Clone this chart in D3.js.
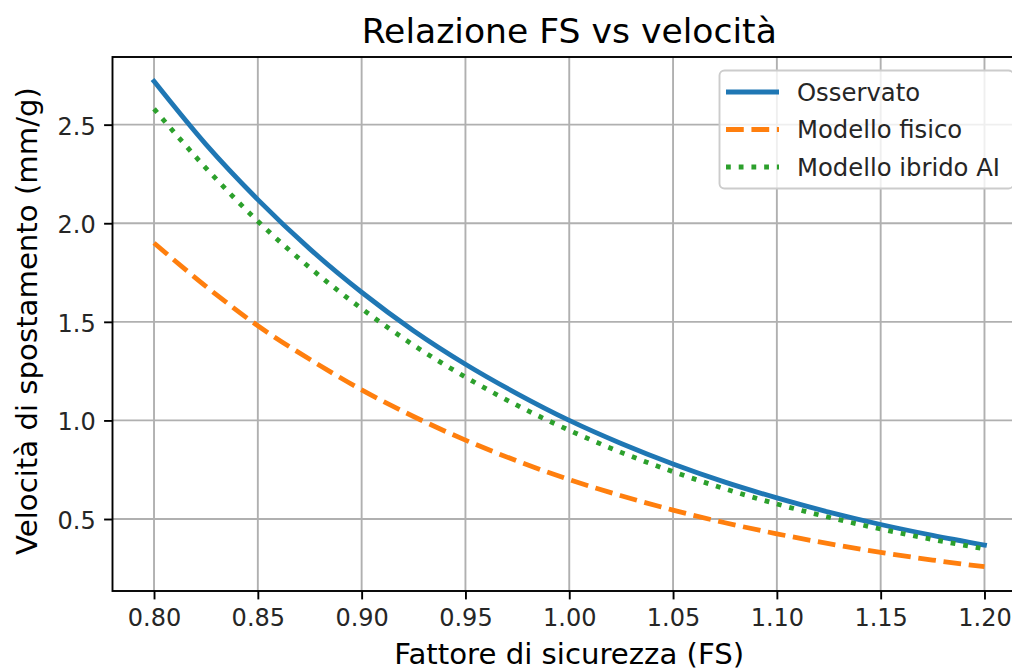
<!DOCTYPE html>
<html>
<head>
<meta charset="utf-8">
<script src="https://cdn.jsdelivr.net/npm/d3@7"></script>
<style>
  html, body { margin: 0; padding: 0; background: #fff; }
  svg { display: block; font-family: "DejaVu Sans", sans-serif; }
</style>
</head>
<body>
<svg id="chart" width="1012" height="670"></svg>
<script>
// ---- data ----
const fsValues = [0.80, 0.825, 0.85, 0.875, 0.90, 0.925, 0.95, 0.975, 1.00,
                  1.025, 1.05, 1.075, 1.10, 1.125, 1.15, 1.175, 1.20];
const observed = [2.72, 2.40, 2.12, 1.87, 1.65, 1.455, 1.285, 1.135, 1.00,
                  0.883, 0.779, 0.687, 0.607, 0.535, 0.472, 0.417, 0.368];
const physical = [1.90, 1.68, 1.48, 1.31, 1.155, 1.02, 0.90, 0.794, 0.70,
                  0.618, 0.545, 0.481, 0.425, 0.375, 0.331, 0.292, 0.258];
const hybrid   = [2.58, 2.28, 2.01, 1.775, 1.567, 1.382, 1.22, 1.076, 0.95,
                  0.838, 0.74, 0.653, 0.576, 0.509, 0.449, 0.396, 0.349];
const seriesNames = ["Osservato", "Modello fisico", "Modello ibrido AI"];
const xTicks = [0.80, 0.85, 0.90, 0.95, 1.00, 1.05, 1.10, 1.15, 1.20];
const yTicks = [0.5, 1.0, 1.5, 2.0, 2.5];
const titleText = "Relazione FS vs velocità";
const xLabel = "Fattore di sicurezza (FS)";
const yLabel = "Velocità di spostamento (mm/g)";

// ---- layout ----
const svg = d3.select("#chart");
const L = 112.5, R = 1026, T = 57, B = 591;
const lw = 4.8;

const xMin = d3.min(fsValues), xMax = d3.max(fsValues);
const xPad = (xMax - xMin) * 0.05;
const allY = observed.concat(physical, hybrid);
const yMin = d3.min(allY), yMax = d3.max(allY);
const yPad = (yMax - yMin) * 0.05;

const x = d3.scaleLinear().domain([xMin - xPad, xMax + xPad]).range([L, R]);
const y = d3.scaleLinear().domain([yMin - yPad, yMax + yPad]).range([B, T]);

// grid
const grid = svg.append("g");
grid.selectAll("line.gx").data(xTicks).enter().append("line")
  .attr("x1", d => x(d)).attr("x2", d => x(d)).attr("y1", T).attr("y2", B)
  .attr("stroke", "#b0b0b0").attr("stroke-width", 1.9);
grid.selectAll("line.gy").data(yTicks).enter().append("line")
  .attr("x1", L).attr("x2", R).attr("y1", d => y(d)).attr("y2", d => y(d))
  .attr("stroke", "#b0b0b0").attr("stroke-width", 1.9);

// series
const series = [
  { name: seriesNames[0], values: observed, color: "#1f77b4", dash: null },
  { name: seriesNames[1], values: physical, color: "#ff7f0e", dash: [3.7 * lw, 1.6 * lw] },
  { name: seriesNames[2], values: hybrid,   color: "#2ca02c", dash: [1 * lw, 1.65 * lw] }
];
const line = d3.line().x((d, i) => x(fsValues[i])).y(d => y(d)).curve(d3.curveMonotoneX);
series.forEach(s => {
  svg.append("path").datum(s.values)
    .attr("d", line)
    .attr("fill", "none")
    .attr("stroke", s.color)
    .attr("stroke-width", lw)
    .attr("stroke-linecap", s.dash ? "butt" : "square")
    .attr("stroke-linejoin", "round")
    .attr("stroke-dasharray", s.dash ? s.dash.join(",") : null);
});

// axes (spines + ticks)
const xAxis = d3.axisBottom(x).tickValues(xTicks).tickFormat(d3.format(".2f"))
  .tickSizeInner(8.4).tickSizeOuter(0).tickPadding(8.4);
const yAxis = d3.axisLeft(y).tickValues(yTicks).tickFormat(d3.format(".1f"))
  .tickSizeInner(8.4).tickSizeOuter(0).tickPadding(8.4);

const gx = svg.append("g").attr("transform", `translate(0,${B})`).call(xAxis);
const gy = svg.append("g").attr("transform", `translate(${L},0)`).call(yAxis);
[gx, gy].forEach(g => {
  g.select(".domain").remove();
  g.selectAll(".tick line").attr("stroke", "#000").attr("stroke-width", 1.9);
  g.selectAll(".tick text").attr("fill", "#262626").style("font-size", "24px")
    .style("font-family", "DejaVu Sans");
});
gx.selectAll(".tick text").attr("y", null).attr("dy", null).attr("transform", "translate(0,35)");
gy.selectAll(".tick text").attr("dy", null).attr("transform", "translate(0,9.5)");

// spines
svg.append("rect").attr("x", L).attr("y", T).attr("width", R - L).attr("height", B - T)
  .attr("fill", "none").attr("stroke", "#000").attr("stroke-width", 1.9);

// title & labels
svg.append("text").attr("x", (L + R) / 2).attr("y", 43).attr("text-anchor", "middle")
  .style("font-size", "34.6px").attr("fill", "#000").text(titleText);
svg.append("text").attr("x", (L + R) / 2).attr("y", 664).attr("text-anchor", "middle")
  .style("font-size", "29.2px").attr("fill", "#000").text(xLabel);
svg.append("text").attr("transform", `translate(37,${(T + B) / 2 - 3}) rotate(-90)`)
  .attr("text-anchor", "middle").style("font-size", "29.2px").attr("fill", "#000").text(yLabel);

// legend
const lg = svg.append("g");
lg.append("rect").attr("x", 719.5).attr("y", 70.5).attr("width", 294).attr("height", 118)
  .attr("rx", 5).attr("ry", 5)
  .attr("fill", "#fff").attr("fill-opacity", 0.8)
  .attr("stroke", "#cccccc").attr("stroke-width", 1.9);
const rowY = [92, 129.5, 167];
series.forEach((s, i) => {
  lg.append("line").attr("x1", 726).attr("x2", 779).attr("y1", rowY[i]).attr("y2", rowY[i])
    .attr("stroke", s.color).attr("stroke-width", lw)
    .attr("stroke-dasharray", s.dash ? s.dash.join(",") : null);
  lg.append("text").attr("x", 797).attr("y", rowY[i] + 8.5)
    .style("font-size", "24.3px").attr("fill", "#262626").text(s.name);
});
</script>
</body>
</html>
